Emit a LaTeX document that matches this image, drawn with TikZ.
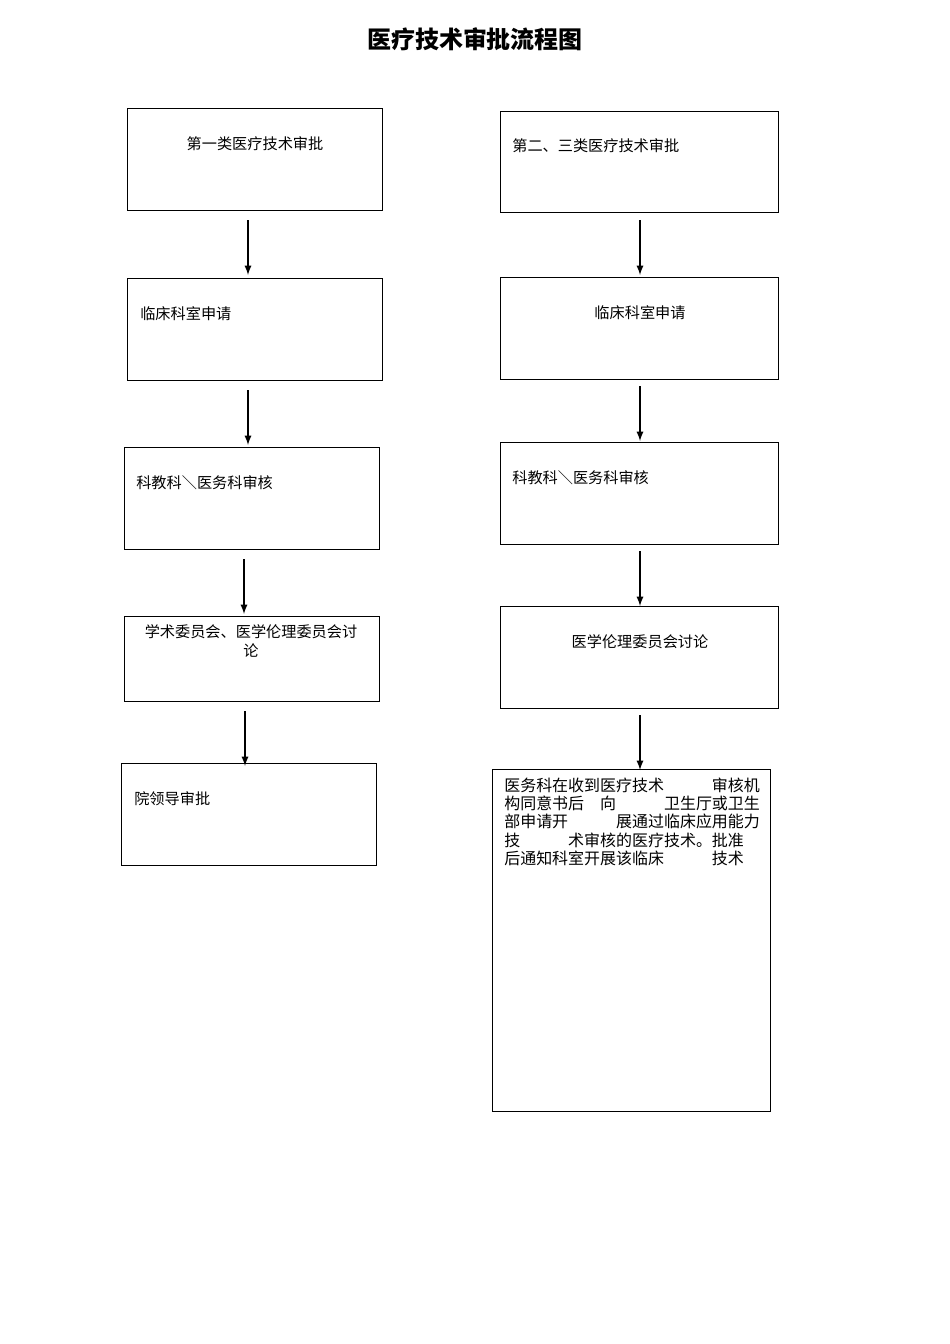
\documentclass[tikz,border=0pt]{standalone}
\usepackage{fontspec}
\setmainfont{Noto Sans CJK SC}
\usetikzlibrary{positioning}
\begin{document}
\begin{tikzpicture}[x=0.626pt,y=-0.626pt,
    box/.style={draw,line width=0.6pt},
    txt/.style={inner sep=0pt,font=\fontsize{9.5}{11.3}\selectfont},
    flow/.style={-latex,line width=1pt}]

    % page frame
    \useasboundingbox (0,0) rectangle (950,1344);

    % title
    \node [font=\bfseries\fontsize{15}{18}\selectfont] (title) at (475,39) {医疗技术审批流程图};

    % left column boxes
    \draw [box] (127,108) rectangle (382,210);
    \draw [box] (127,278) rectangle (382,380);
    \draw [box] (124,447) rectangle (379,549);
    \draw [box] (124,616) rectangle (379,701);
    \draw [box] (121,763) rectangle (376,865);

    % right column boxes
    \draw [box] (500,111) rectangle (778,212);
    \draw [box] (500,277) rectangle (778,379);
    \draw [box] (500,442) rectangle (778,544);
    \draw [box] (500,606) rectangle (778,708);
    \draw [box] (492,769) rectangle (770,1111);

    % left texts
    \node [txt] (lA) at (255,144) {第一类医疗技术审批};
    \node [txt,anchor=west] (lB) at (140,314) {临床科室申请};
    \node [txt,anchor=west] (lC) at (136,483) {科教科＼医务科审核};
    \node [txt,align=center] (lD) at (251,641) {学术委员会、医学伦理委员会讨\\论};
    \node [txt,anchor=west] (lE) at (134,799) {院领导审批};

    % right texts
    \node [txt,anchor=west] (rA) at (512,146) {第二、三类医疗技术审批};
    \node [txt] (rB) at (640,313) {临床科室申请};
    \node [txt,anchor=west] (rC) at (512,478) {科教科＼医务科审核};
    \node [txt] (rD) at (640,642) {医学伦理委员会讨论};
    \node [txt,anchor=north west,align=left,font=\fontsize{10}{11.3}\selectfont] (rE) at (504,778)
        {医务科在收到医疗技术\hspace{3em}审核机\\
         构同意书后\hspace{1em}向\hspace{3em}卫生厅或卫生\\
         部申请开\hspace{3em}展通过临床应用能力\\
         技\hspace{3em}术审核的医疗技术。批准\\
         后通知科室开展该临床\hspace{3em}技术};

    % arrow end points
    \foreach \n/\x/\a/\b in {l1/248/220/275, l2/248/390/445, l3/244/559/614, l4/245/711/766,
                             r1/640/220/275, r2/640/386/441, r3/640/551/606, r4/640/715/770}{
        \coordinate (\n s) at (\x,\a);
        \coordinate (\n e) at (\x,\b);
    }

    % arrows
    \foreach \n in {l1,l2,l3,l4,r1,r2,r3,r4}
        \draw [flow] (\n s) -- (\n e);

\end{tikzpicture}
\end{document}
